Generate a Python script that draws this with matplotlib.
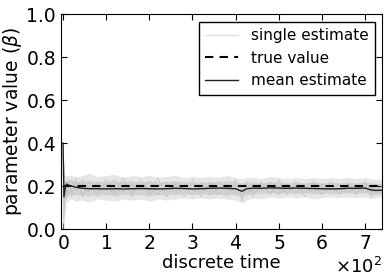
import matplotlib
matplotlib.use("Agg")
import matplotlib.pyplot as plt
from matplotlib.ticker import ScalarFormatter

# time points (discrete time steps)
t = [0, 2, 5, 8, 12, 20, 30, 45, 60,
     80, 100, 120, 140, 160, 180, 200, 220, 240, 260, 280, 300, 320, 340, 360, 380, 400,
     415, 425,
     440, 460, 480, 500, 520, 540, 560, 580, 600, 620, 640, 660, 680, 700,
     715, 725, 738]

true_value = 0.2

mean_estimate = [0.40, 0.15, 0.19, 0.21, 0.205, 0.200, 0.195, 0.190, 0.188,
                 0.188, 0.187, 0.188, 0.187, 0.188, 0.189, 0.188, 0.187, 0.188, 0.190, 0.189,
                 0.187, 0.188, 0.190, 0.191, 0.190, 0.188,
                 0.176, 0.187,
                 0.191, 0.190, 0.192, 0.191, 0.190, 0.191, 0.190, 0.189, 0.188, 0.187, 0.188,
                 0.190, 0.190, 0.191,
                 0.182, 0.180, 0.181]

# outer envelope of the single estimates
band_upper = [0.40, 0.26, 0.25, 0.25, 0.25, 0.25, 0.24, 0.25, 0.26,
              0.245, 0.25, 0.255, 0.24, 0.25, 0.245, 0.25, 0.24, 0.245, 0.25, 0.24,
              0.245, 0.24, 0.245, 0.24, 0.25, 0.24,
              0.235, 0.24,
              0.24, 0.235, 0.245, 0.24, 0.235, 0.24, 0.235, 0.24, 0.235, 0.24, 0.235,
              0.24, 0.235, 0.24,
              0.235, 0.23, 0.235]
band_lower = [0.00, 0.02, 0.08, 0.12, 0.13, 0.14, 0.13, 0.135, 0.125,
              0.14, 0.135, 0.13, 0.14, 0.135, 0.14, 0.13, 0.14, 0.135, 0.14, 0.145,
              0.14, 0.145, 0.14, 0.145, 0.14, 0.135,
              0.12, 0.135,
              0.145, 0.14, 0.15, 0.145, 0.15, 0.145, 0.15, 0.14, 0.145, 0.15, 0.145,
              0.15, 0.145, 0.15,
              0.14, 0.145, 0.15]

# dense core where most runs lie
core_upper = [0.30, 0.23, 0.225, 0.225, 0.225, 0.225, 0.22, 0.225, 0.225,
              0.22, 0.225, 0.225, 0.22, 0.225, 0.22, 0.225, 0.22, 0.22, 0.225, 0.22,
              0.22, 0.22, 0.22, 0.22, 0.225, 0.22,
              0.215, 0.22,
              0.22, 0.215, 0.22, 0.22, 0.215, 0.22, 0.215, 0.22, 0.215, 0.22, 0.215,
              0.22, 0.215, 0.22,
              0.215, 0.21, 0.215]
core_lower = [0.08, 0.10, 0.14, 0.155, 0.16, 0.16, 0.16, 0.16, 0.155,
              0.16, 0.16, 0.155, 0.16, 0.16, 0.16, 0.155, 0.16, 0.16, 0.16, 0.165,
              0.16, 0.165, 0.16, 0.165, 0.16, 0.16,
              0.15, 0.16,
              0.165, 0.165, 0.17, 0.165, 0.17, 0.165, 0.17, 0.165, 0.165, 0.17, 0.165,
              0.17, 0.165, 0.17,
              0.16, 0.16, 0.165]

# a few individual runs
single_a = [0.0, 0.10, 0.17, 0.22, 0.21, 0.23, 0.18, 0.21, 0.17,
            0.22, 0.19, 0.23, 0.17, 0.21, 0.18, 0.22, 0.19, 0.17, 0.22, 0.18,
            0.21, 0.17, 0.20, 0.22, 0.18, 0.21,
            0.16, 0.19,
            0.21, 0.18, 0.22, 0.19, 0.17, 0.21, 0.19, 0.22, 0.18, 0.20, 0.17,
            0.21, 0.19, 0.20,
            0.17, 0.19, 0.18]
single_b = [0.25, 0.22, 0.15, 0.18, 0.16, 0.19, 0.22, 0.16, 0.20,
            0.17, 0.21, 0.16, 0.20, 0.17, 0.21, 0.16, 0.20, 0.22, 0.17, 0.20,
            0.16, 0.21, 0.18, 0.16, 0.21, 0.17,
            0.19, 0.17,
            0.18, 0.21, 0.17, 0.20, 0.21, 0.17, 0.20, 0.17, 0.21, 0.18, 0.21,
            0.17, 0.20, 0.17,
            0.19, 0.17, 0.20]
single_c = [0.12, 0.30, 0.20, 0.16, 0.23, 0.17, 0.20, 0.23, 0.18,
            0.20, 0.16, 0.19, 0.22, 0.18, 0.20, 0.19, 0.16, 0.21, 0.19, 0.21,
            0.18, 0.20, 0.16, 0.19, 0.20, 0.16,
            0.18, 0.20,
            0.17, 0.19, 0.19, 0.16, 0.19, 0.20, 0.17, 0.19, 0.20, 0.16, 0.19,
            0.20, 0.17, 0.19,
            0.20, 0.18, 0.16]
single_d = [0.20, 0.05, 0.22, 0.14, 0.19, 0.15, 0.24, 0.15, 0.22,
            0.15, 0.23, 0.17, 0.24, 0.15, 0.23, 0.17, 0.24, 0.15, 0.21, 0.15,
            0.23, 0.15, 0.22, 0.17, 0.15, 0.23,
            0.13, 0.22,
            0.15, 0.22, 0.16, 0.23, 0.16, 0.22, 0.15, 0.21, 0.16, 0.22, 0.16,
            0.21, 0.16, 0.22,
            0.15, 0.21, 0.17]

fig = plt.figure(figsize=(3.88, 2.77), dpi=100)
ax = fig.add_axes([0.157, 0.173, 0.828, 0.775])

ax.fill_between(t, band_lower, band_upper, color='#e6e6e6', lw=0)
ax.fill_between(t, core_lower, core_upper, color='#d2d2d2', lw=0)
for run in (single_a, single_b, single_c, single_d):
    ax.plot(t, run, color='#c4c4c4', lw=0.5)
ax.plot([], [], color='#e0e0e0', lw=1, label='single estimate')
ax.plot([t[0], t[-1]], [true_value, true_value], color='black', ls=(0, (4, 3)),
        lw=1.5, label='true value')
ax.plot(t, mean_estimate, color='#222222', lw=1, label='mean estimate')

ax.set_xlim(-5, 740)
ax.set_ylim(0, 1.0)
ax.set_xticks([0, 100, 200, 300, 400, 500, 600, 700])
ax.set_yticks([0.0, 0.2, 0.4, 0.6, 0.8, 1.0])
fmt = ScalarFormatter(useMathText=True)
fmt.set_powerlimits((0, 0))
ax.xaxis.set_major_formatter(fmt)
ax.xaxis.get_offset_text().set_fontsize(13)
ax.tick_params(direction='in', top=True, right=True, labelsize=13.5, length=4)

ax.set_xlabel('discrete time', fontsize=13, labelpad=1)
ax.set_ylabel(r'parameter value ($\beta$)', fontsize=13.5, labelpad=2)

leg = ax.legend(loc='upper right', fontsize=11, fancybox=False, framealpha=1,
                handlelength=2.2, borderaxespad=0.5, labelspacing=0.5)
leg.get_frame().set_edgecolor('black')

fig.savefig('out.png', dpi=100)
